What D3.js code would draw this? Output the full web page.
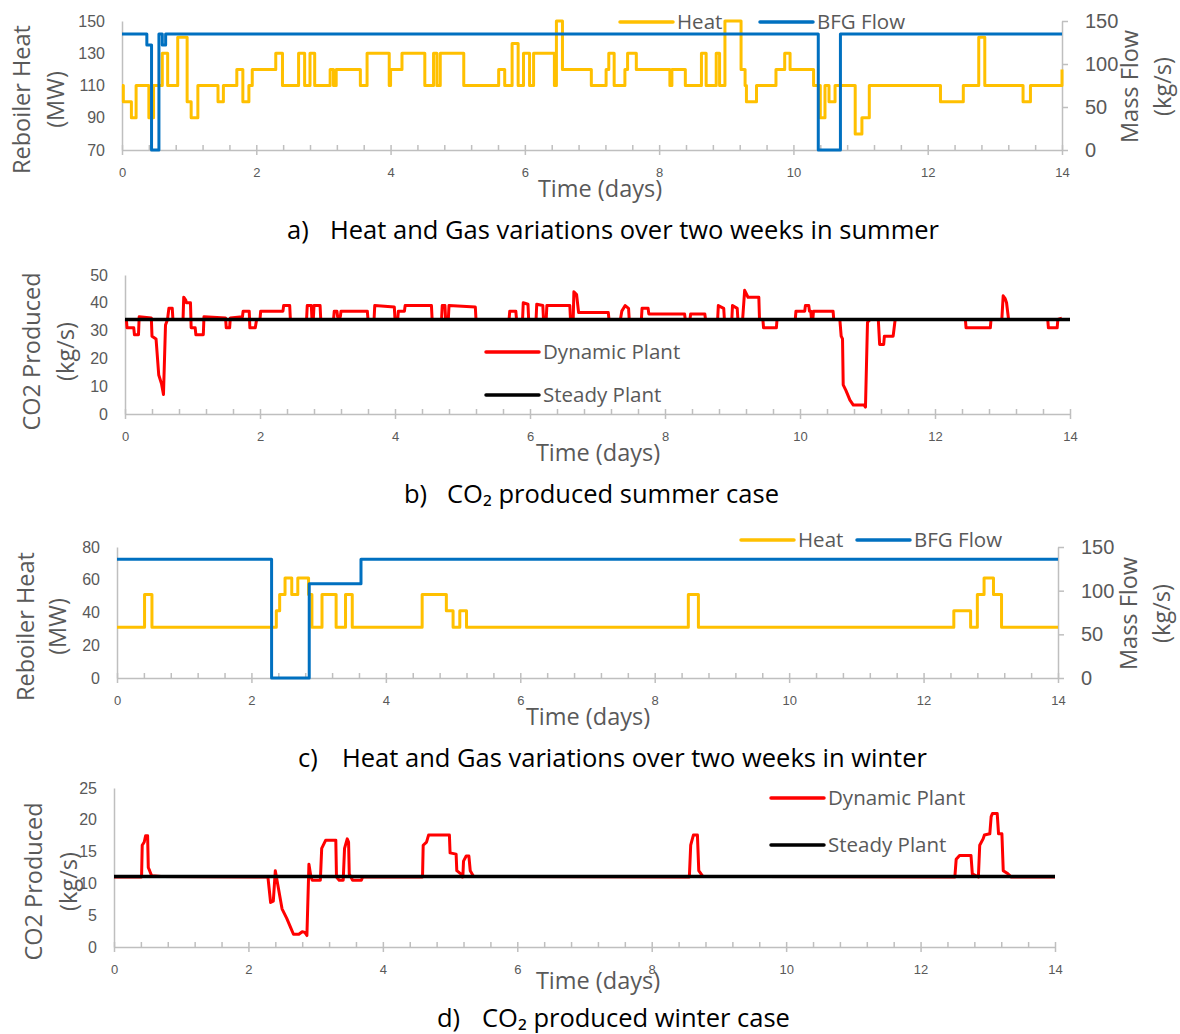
<!DOCTYPE html>
<head>
<meta charset="utf-8">
<script src="https://d3js.org/d3.v7.min.js"></script>
<style>
  body { margin: 0; background: #fff; font-family: 'Open Sans', sans-serif; }
  text { fill: #595959; }
  .tickLeft text { font-size: 16px; }
  .tickRight text { font-size: 20px; }
  .tickX text { font-size: 13px; }
  .axisTitle { font-size: 23.5px; }
  .legend { font-size: 20.5px; }
  .caption { font-size: 25.5px; fill: #000; }
  .domain, .tick line { stroke: #bfbfbf; stroke-width: 1.5px; }
</style>
</head>
<body>
<svg id="chart" width="1180" height="1034"></svg>
<script>

///////////////////////////////////////////////////////////////////////////
//////////////////////////////// Data ////////////////////////////////////
///////////////////////////////////////////////////////////////////////////

const dayTicks = [0, 2, 4, 6, 8, 10, 12, 14];
const dayMinor = d3.range(36).map(i => i * 0.4);

// a) summer: [day, value] change points (step after)
const heatSummer = [[0,110],[0.02,100],[0.14,90],[0.21,110],[0.4,90],[0.47,110],[0.6,130],[0.68,110],
  [0.83,140],[0.97,100],[1.03,90],[1.13,110],[1.43,100],[1.51,110],[1.71,120],[1.8,100],[1.89,110],
  [1.94,120],[2.29,130],[2.39,110],[2.63,130],[2.72,110],[2.8,130],[2.87,110],[3.1,120],[3.15,110],
  [3.19,120],[3.55,110],[3.65,130],[3.98,110],[4.0,120],[4.17,130],[4.51,110],[4.64,130],[4.69,110],
  [4.74,130],[5.09,110],[5.61,120],[5.7,110],[5.81,136],[5.9,110],[5.98,130],[6.07,110],[6.13,130],
  [6.44,110],[6.47,150],[6.56,120],[6.99,110],[7.21,120],[7.25,130],[7.33,110],[7.49,120],[7.53,130],
  [7.66,120],[8.16,110],[8.19,120],[8.39,110],[8.63,130],[8.7,110],[8.85,130],[8.9,110],[8.98,150],
  [9.22,120],[9.28,110],[9.3,100],[9.45,110],[9.74,120],[9.87,130],[9.95,120],[10.3,110],[10.4,90],
  [10.47,110],[10.53,100],[10.62,110],[10.92,80],[11.02,90],[11.13,110],[12.19,100],[12.53,110],
  [12.76,140],[12.85,110],[13.42,100],[13.53,110],[14,120]];
const bfgSummer = [[0,135],[0.37,122],[0.44,0],[0.55,135],[0.6,122],[0.65,135],[10.37,0],[10.7,135],[14,135]];

// b) summer CO2 (kg/s)
const co2DynSummer = [[0,34],[0.02,34],[0.03,31],[0.13,31],[0.14,28.5],[0.2,28.5],[0.21,35],[0.39,34.5],
  [0.4,28],[0.46,27],[0.5,14],[0.54,11],[0.57,7],[0.6,32],[0.63,34],[0.65,38],[0.7,38],[0.71,34],
  [0.86,34],[0.87,42],[0.9,41],[0.91,40],[0.97,40],[0.98,31],[1.04,31],[1.05,28.5],[1.16,28.5],
  [1.17,35],[1.49,34.5],[1.5,31],[1.55,31],[1.56,34.5],[1.74,35],[1.75,37],[1.84,37],[1.85,31],
  [1.93,31],[1.95,34],[2.0,34],[2.01,37],[2.34,37],[2.35,39],[2.44,39],[2.45,34],[2.69,34],[2.7,39],
  [2.76,39],[2.77,34],[2.79,34],[2.8,39],[2.89,39],[2.9,34],[3.09,34],[3.1,37],[3.14,37],[3.15,35],
  [3.19,35],[3.2,37],[3.59,37],[3.6,34],[3.69,34],[3.7,39],[3.99,38.5],[4.0,34],[4.04,34],[4.05,37],
  [4.14,37],[4.15,39],[4.54,39],[4.55,34],[4.69,34],[4.7,39],[4.74,39],[4.75,34],[4.79,34],[4.8,39],
  [5.19,38.5],[5.2,34],[5.69,34],[5.7,37],[5.79,37],[5.8,34],[5.89,34],[5.9,40],[5.97,39.5],[5.98,34],
  [6.09,34],[6.1,39.5],[6.19,39],[6.2,34],[6.24,34],[6.25,39],[6.59,39],[6.6,34],[6.64,34],[6.65,44],
  [6.69,43],[6.72,36.5],[7.16,36.5],[7.17,34],[7.34,34],[7.36,37],[7.41,39],[7.46,38],[7.47,34],
  [7.65,34],[7.66,38],[7.75,38],[7.76,36],[8.29,36],[8.3,34],[8.37,34],[8.38,36],[8.59,36],[8.6,34],
  [8.78,34],[8.79,39],[8.87,38],[8.88,34],[8.99,34],[9.0,39],[9.07,38],[9.08,34],[9.15,34],[9.18,44.5],
  [9.23,42],[9.39,42],[9.4,34],[9.45,34],[9.46,31],[9.65,31],[9.66,34],[9.93,34],[9.94,37],[10.07,37],
  [10.08,39],[10.13,39],[10.14,37],[10.16,37],[10.17,34],[10.19,34],[10.2,37],[10.49,37],[10.5,34],
  [10.59,34],[10.61,28],[10.63,27],[10.64,10.5],[10.68,8.5],[10.74,5],[10.79,3.2],[10.95,3.2],
  [10.97,2.5],[11.0,33],[11.04,34],[11.16,34],[11.18,25],[11.24,25],[11.25,28],[11.38,28],[11.41,34],
  [12.45,34],[12.46,31],[12.82,31],[12.83,34],[12.99,34],[13.01,42.5],[13.04,41.5],[13.06,40],
  [13.09,34],[13.67,34],[13.68,31],[13.81,31],[13.82,34],[13.88,34.5]];
const co2SteadySummer = [[0,34],[14,34]];

// c) winter
const heatWinter = [[0,31],[0.41,51],[0.52,31],[2.37,41],[2.42,51],[2.5,61],[2.6,51],[2.69,61],[2.85,51],
  [2.9,31],[3.05,51],[3.26,31],[3.4,51],[3.5,31],[4.54,51],[4.9,41],[5.0,31],[5.1,41],[5.2,31],[8.5,51],
  [8.65,31],[12.45,41],[12.7,31],[12.8,51],[12.9,61],[13.04,51],[13.16,31],[14,31]];
const bfgWinter = [[0,136],[2.3,0],[2.86,108],[3.63,136],[14,136]];

// d) winter CO2
const co2DynWinter = [[0,11],[0.41,11],[0.42,16],[0.45,16.5],[0.47,17.5],[0.5,17.5],[0.51,12.5],[0.53,12],
  [0.56,11.2],[0.7,11.1],[2.29,11],[2.31,9],[2.33,7],[2.37,7.2],[2.4,12],[2.45,9],[2.5,6],[2.57,4.5],
  [2.63,3],[2.67,2],[2.75,2],[2.8,2.4],[2.84,2.3],[2.87,1.8],[2.9,13],[2.93,11],[2.95,10.5],[3.07,10.5],
  [3.09,15.5],[3.15,16.8],[3.3,16.8],[3.31,11],[3.35,10.5],[3.41,10.5],[3.43,15.5],[3.47,17],[3.49,16.5],
  [3.5,11.5],[3.55,10.5],[3.68,10.5],[3.7,11],[4.59,11],[4.6,16],[4.65,16.5],[4.68,17.6],[4.99,17.6],
  [5.0,14.8],[5.09,14.6],[5.1,12],[5.16,11.5],[5.18,11],[5.19,11],[5.2,13.5],[5.24,14.3],[5.28,14.3],
  [5.3,12],[5.35,11.1],[8.56,11],[8.58,16],[8.62,17.6],[8.68,17.6],[8.7,12],[8.76,11.1],[12.51,11],
  [12.53,13.8],[12.58,14.4],[12.75,14.4],[12.77,11.5],[12.86,11],[12.88,16],[12.93,17],[12.95,17.6],
  [13.03,17.8],[13.05,20.5],[13.07,21],[13.14,21],[13.16,17.8],[13.21,17.8],[13.23,12],[13.3,11.5],
  [13.35,11],[14,11]];
const co2SteadyWinter = [[0,11.1],[14,11.1]];

const heatTicksSummer = [70, 90, 110, 130, 150];
const heatTicksWinter = [0, 20, 40, 60, 80];
const flowTicks = [0, 50, 100, 150];
const co2TicksSummer = [0, 10, 20, 30, 40, 50];
const co2TicksWinter = [0, 5, 10, 15, 20, 25];

///////////////////////////////////////////////////////////////////////////
/////////////////////////////// Panels ///////////////////////////////////
///////////////////////////////////////////////////////////////////////////

const svg = d3.select("#chart");

const colors = { heat: "#FFC000", bfg: "#0070C0", dyn: "#FF0000", steady: "#000000" };

const panels = [
  { left: 122, right: 1062, top: 21, bottom: 150,
    yDomain: [70, 150], yTicks: heatTicksSummer, y2Ticks: flowTicks,
    yTitle: ["Reboiler Heat", "(MW)"], yTitleX: [22, 56], yTitleShift: 14,
    y2Title: ["Mass Flow", "(kg/s)"], y2TitleX: [1130, 1163],
    timeY: 189, timeX: 600,
    series: [ { data: heatSummer, color: colors.heat, axis: 1, step: true },
              { data: bfgSummer, color: colors.bfg, axis: 2, step: true } ],
    legend: [ { label: "Heat", color: colors.heat, x: 620, y: 22 },
              { label: "BFG Flow", color: colors.bfg, x: 760, y: 22 } ],
    caption: ["a)", "Heat and Gas variations over two weeks in summer"], capX: [287, 330], capY: 230 },
  { left: 125, right: 1070, top: 275, bottom: 414,
    yDomain: [0, 50], yTicks: co2TicksSummer,
    yTitle: ["CO2 Produced", "(kg/s)"], yTitleX: [32, 66], yTitleShift: 7,
    timeY: 453, timeX: 598,
    series: [ { data: co2DynSummer, color: colors.dyn, axis: 1 },
              { data: co2SteadySummer, color: colors.steady, axis: 1, width: 3.5 } ],
    legend: [ { label: "Dynamic Plant", color: colors.dyn, x: 486, y: 352 },
              { label: "Steady Plant", color: colors.steady, x: 486, y: 395 } ],
    caption: ["b)", "CO\u2082 produced summer case"], capX: [404, 447], capY: 494 },
  { left: 117, right: 1058, top: 547, bottom: 678,
    yDomain: [0, 80], yTicks: heatTicksWinter, y2Ticks: flowTicks,
    yTitle: ["Reboiler Heat", "(MW)"], yTitleX: [26, 58], yTitleShift: 14,
    y2Title: ["Mass Flow", "(kg/s)"], y2TitleX: [1129, 1162],
    timeY: 717, timeX: 588,
    series: [ { data: heatWinter, color: colors.heat, axis: 1, step: true },
              { data: bfgWinter, color: colors.bfg, axis: 2, step: true } ],
    legend: [ { label: "Heat", color: colors.heat, x: 741, y: 540 },
              { label: "BFG Flow", color: colors.bfg, x: 857, y: 540 } ],
    caption: ["c)", "Heat and Gas variations over two weeks in winter"], capX: [298, 342], capY: 758 },
  { left: 114, right: 1055, top: 788, bottom: 947,
    yDomain: [0, 25], yTicks: co2TicksWinter,
    yTitle: ["CO2 Produced", "(kg/s)"], yTitleX: [34, 69], yTitleShift: 14,
    timeY: 981, timeX: 598,
    series: [ { data: co2DynWinter, color: colors.dyn, axis: 1 },
              { data: co2SteadyWinter, color: colors.steady, axis: 1, width: 3.5 } ],
    legend: [ { label: "Dynamic Plant", color: colors.dyn, x: 771, y: 798 },
              { label: "Steady Plant", color: colors.steady, x: 771, y: 845 } ],
    caption: ["d)", "CO\u2082 produced winter case"], capX: [437, 482], capY: 1018 }
];

panels.forEach(drawPanel);

function drawPanel(p) {
  const g = svg.append("g");
  const x = d3.scaleLinear().domain([0, 14]).range([p.left, p.right]);
  const y = d3.scaleLinear().domain(p.yDomain).range([p.bottom, p.top]);
  const y2 = d3.scaleLinear().domain([0, 150]).range([p.bottom, p.top]);

  // x axis: minor ticks point up, majors cross
  g.append("g").attr("class", "tickX")
    .attr("transform", "translate(0," + p.bottom + ")")
    .call(d3.axisBottom(x).tickValues(dayMinor).tickSize(-5).tickSizeOuter(0).tickFormat(""));
  g.append("g").attr("class", "tickX")
    .attr("transform", "translate(0," + p.bottom + ")")
    .call(d3.axisBottom(x).tickValues(dayTicks).tickSize(5).tickSizeOuter(0).tickPadding(13).tickFormat(d3.format("d")))
    .call(a => a.select(".domain").remove());

  // left axis
  g.append("g").attr("class", "tickLeft")
    .attr("transform", "translate(" + p.left + ",0)")
    .call(d3.axisLeft(y).tickValues(p.yTicks).tickSize(0).tickPadding(17));

  // right axis
  if (p.y2Ticks) {
    g.append("g").attr("class", "tickRight")
      .attr("transform", "translate(" + p.right + ",0)")
      .call(d3.axisRight(y2).tickValues(p.y2Ticks).tickSize(6).tickSizeOuter(0).tickPadding(17));
  }

  // lines
  p.series.forEach(s => {
    const ys = s.axis === 2 ? y2 : y;
    const line = d3.line()
      .x(d => x(d[0])).y(d => ys(d[1]))
      .curve(s.step ? d3.curveStepAfter : d3.curveLinear);
    g.append("path")
      .datum(s.data)
      .attr("d", line)
      .attr("fill", "none")
      .attr("stroke", s.color)
      .attr("stroke-width", s.width || 3)
      .attr("stroke-linejoin", "round");
  });

  // legend
  p.legend.forEach(l => {
    g.append("line").attr("x1", l.x).attr("x2", l.x + 53).attr("y1", l.y).attr("y2", l.y)
      .attr("stroke", l.color).attr("stroke-width", 3.5).attr("stroke-linecap", "round");
    g.append("text").attr("class", "legend").attr("x", l.x + 57).attr("y", l.y).attr("dy", "0.35em").text(l.label);
  });

  // titles
  const midY = (p.top + p.bottom) / 2;
  p.yTitle.forEach((t, i) => {
    g.append("text").attr("class", "axisTitle")
      .attr("transform", "translate(" + p.yTitleX[i] + "," + (midY + p.yTitleShift) + ") rotate(-90)")
      .attr("text-anchor", "middle").attr("dy", "0.35em").text(t);
  });
  if (p.y2Title) {
    p.y2Title.forEach((t, i) => {
      g.append("text").attr("class", "axisTitle")
        .attr("transform", "translate(" + p.y2TitleX[i] + "," + (midY + 1) + ") rotate(-90)")
        .attr("text-anchor", "middle").attr("dy", "0.35em").text(t);
    });
  }
  g.append("text").attr("class", "axisTitle")
    .attr("x", p.timeX).attr("y", p.timeY).attr("dy", "0.35em")
    .attr("text-anchor", "middle").text("Time (days)");

  // caption
  p.caption.forEach((t, i) => {
    g.append("text").attr("class", "caption")
      .attr("x", p.capX[i]).attr("y", p.capY).attr("dy", "0.35em").text(t);
  });
}
</script>
</body>
